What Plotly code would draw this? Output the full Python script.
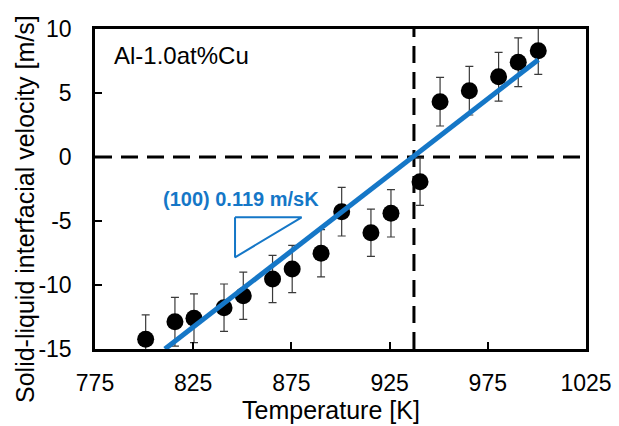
import plotly.graph_objects as go

# Data
temperature = [800.8, 815.7, 825.4, 840.7, 850.5, 865.4, 875.4, 890.1, 900.6,
               915.5, 925.7, 940.5, 950.7, 965.6, 980.5, 990.5, 1000.7]
velocity = [-14.24, -12.87, -12.6, -11.77, -10.84, -9.53, -8.75, -7.52, -4.27,
            -5.92, -4.4, -1.93, 4.32, 5.18, 6.27, 7.4, 8.3]
velocity_err = [1.9, 1.9, 1.9, 1.85, 1.85, 1.85, 1.85, 1.85, 1.9,
                1.85, 1.85, 1.85, 1.9, 1.9, 1.9, 1.9, 1.85]

fit_T = [810.6, 1000.7]
fit_v = [-15.0, 7.6]

slope_tri_T = [846.3, 880.2, 846.3, 846.3]
slope_tri_v = [-4.71, -4.71, -7.84, -4.71]

melting_T = 937.4

x_ticks = [775, 825, 875, 925, 975, 1025]
y_ticks = [-15, -10, -5, 0, 5, 10]

BLUE = "#1577C7"
FONT = "Liberation Sans, Arial, sans-serif"

W, H = 619, 426
L, R, T, B = 95, 33, 29, 77
pw, ph = W - L - R, H - T - B


def px_to_paper(xp, yp):
    return (xp - L) / pw, 1 - (yp - T) / ph


fig = go.Figure()

# reference dashed lines
fig.add_shape(type="line", xref="x", yref="y", x0=775, x1=1025, y0=0, y1=0,
              line=dict(color="black", width=3, dash="17px,9px"), layer="below")
fig.add_shape(type="line", xref="x", yref="y", x0=melting_T, x1=melting_T, y0=-15, y1=10,
              line=dict(color="black", width=3, dash="17px,9px"), layer="below")

fig.add_trace(go.Scatter(
    x=temperature, y=velocity, mode="markers",
    marker=dict(color="black", size=17),
    error_y=dict(type="data", array=velocity_err, visible=True,
                 color="#3a3a3a", thickness=1.2, width=4),
    showlegend=False,
))

fig.add_trace(go.Scatter(
    x=fit_T, y=fit_v, mode="lines",
    line=dict(color=BLUE, width=5), showlegend=False,
))

fig.add_trace(go.Scatter(
    x=slope_tri_T, y=slope_tri_v, mode="lines",
    line=dict(color=BLUE, width=2), showlegend=False,
))

ax, ay = px_to_paper(241, 199)
fig.add_annotation(x=ax, y=ay, xref="paper", yref="paper", showarrow=False,
                   xanchor="center", yanchor="middle",
                   text="<b>(100) 0.119 m/sK</b>",
                   font=dict(family=FONT, size=20, color=BLUE))
ax, ay = px_to_paper(112, 55)
fig.add_annotation(x=ax, y=ay, xref="paper", yref="paper", showarrow=False,
                   xanchor="left", yanchor="middle",
                   text="Al-1.0at%Cu",
                   font=dict(family=FONT, size=24, color="black"))
# axis titles
ax, ay = px_to_paper(331, 410)
fig.add_annotation(x=ax, y=ay, xref="paper", yref="paper", showarrow=False,
                   xanchor="center", yanchor="middle",
                   text="Temperature [K]",
                   font=dict(family=FONT, size=25, color="black"))
ax, ay = px_to_paper(25, 209)
fig.add_annotation(x=ax, y=ay, xref="paper", yref="paper", showarrow=False,
                   xanchor="center", yanchor="middle", textangle=-90,
                   text="Solid-liquid interfacial velocity [m/s]",
                   font=dict(family=FONT, size=25, color="black"))

fig.update_layout(
    width=W, height=H,
    margin=dict(l=L, r=R, t=T, b=B, autoexpand=False),
    paper_bgcolor="white", plot_bgcolor="white",
    font=dict(family=FONT, size=23, color="black"),
    xaxis=dict(
        range=[775, 1025], tickvals=x_ticks, ticktext=[str(v) for v in x_ticks],
        showgrid=False, zeroline=False,
        showline=True, linecolor="black", linewidth=2.5, mirror=True,
        ticks="inside", ticklen=7, tickwidth=2, tickcolor="black",
        ticklabelstandoff=12,
    ),
    yaxis=dict(
        range=[-15, 10], tickvals=y_ticks, ticktext=[str(v) for v in y_ticks],
        showgrid=False, zeroline=False,
        showline=True, linecolor="black", linewidth=2.5, mirror=True,
        ticks="inside", ticklen=7, tickwidth=2, tickcolor="black",
        ticklabelstandoff=16,
    ),
)

fig.write_html("out.html", config={"displayModeBar": False},
               post_script="document.body.style.margin='0';")
